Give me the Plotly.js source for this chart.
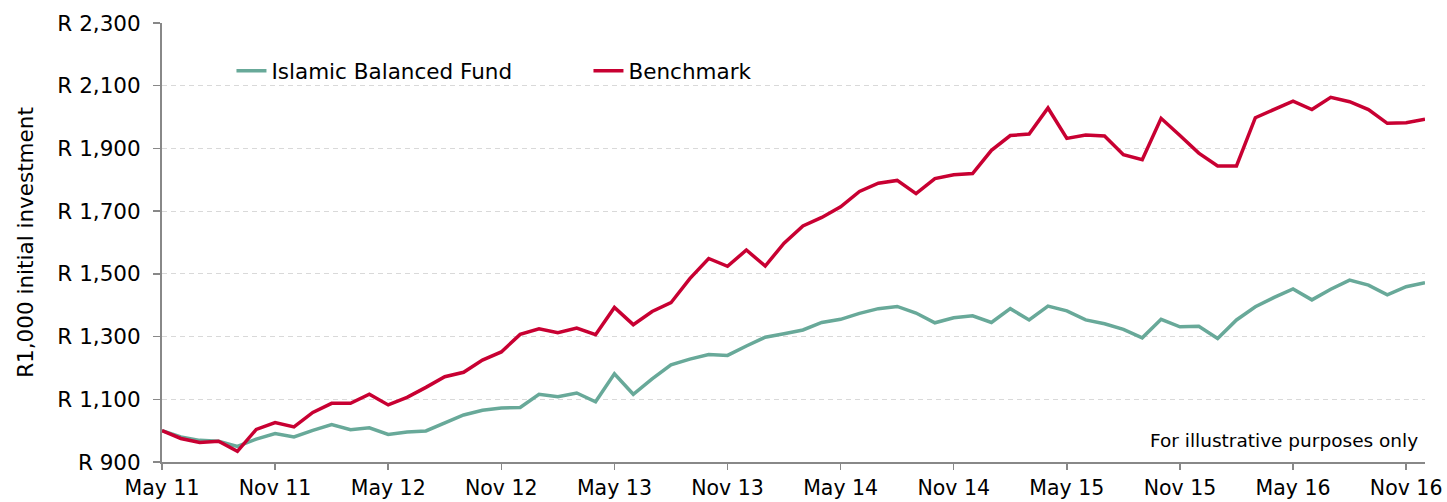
<!DOCTYPE html>
<html>
<head>
<meta charset="utf-8">
<script src="https://cdn.plot.ly/plotly-3.0.1.min.js"></script>
<style>
  html, body { margin: 0; padding: 0; background: #ffffff; }
  #chart { width: 1447px; height: 502px; }
</style>
</head>
<body>
<div id="chart"></div>
<script>
// Month categories: May 2011 .. Dec 2016
const monthNames = ["Jan","Feb","Mar","Apr","May","Jun","Jul","Aug","Sep","Oct","Nov","Dec"];
const months = [];
for (let y = 11; y <= 16; y++) {
  for (let m = 0; m < 12; m++) {
    if (y === 11 && m < 4) continue;
    months.push(monthNames[m] + " " + y);
  }
}

const tickLabels = ["May 11","Nov 11","May 12","Nov 12","May 13","Nov 13",
                    "May 14","Nov 14","May 15","Nov 15","May 16","Nov 16"];

const islamicBalancedFund = [
  1000, 980, 969, 966, 950, 973, 991, 980, 1001, 1019,
  1003, 1009, 988, 996, 999, 1025, 1050, 1065, 1072, 1074,
  1116, 1108, 1120, 1092, 1181, 1116, 1165, 1210, 1228, 1243,
  1240, 1270, 1298, 1309, 1321, 1345, 1355, 1374, 1389, 1396,
  1375, 1344, 1360, 1366, 1345, 1389, 1353, 1397, 1382, 1353,
  1341, 1323, 1296, 1355, 1331, 1333, 1294, 1353, 1395, 1425,
  1452, 1417, 1451, 1480, 1464, 1433, 1459, 1472
];

const benchmark = [
  1000, 975, 962, 966, 934, 1004, 1026, 1012, 1058, 1087,
  1087, 1116, 1082, 1106, 1138, 1172, 1186, 1225, 1251, 1307,
  1325, 1312, 1327, 1306, 1393, 1338, 1380, 1408, 1485, 1549,
  1524, 1576, 1525, 1598, 1653, 1680, 1714, 1763, 1789, 1798,
  1756, 1804, 1816, 1820, 1894, 1941, 1946, 2029, 1932, 1943,
  1940, 1880, 1864, 1996, 1941, 1885, 1844, 1844, 1998, 2024,
  2051, 2024, 2063, 2049, 2024, 1980, 1982, 1993
];

const FONT = "Verdana, 'DejaVu Sans', sans-serif";
const FS = 21.5;
const GREEN = "#68A999";
const RED = "#C80032";
const AXIS = "#888888";

const traces = [
  {
    x: months, y: islamicBalancedFund, type: "scatter", mode: "lines",
    name: "Islamic Balanced Fund",
    line: { color: GREEN, width: 3.5 }
  },
  {
    x: months, y: benchmark, type: "scatter", mode: "lines",
    name: "Benchmark",
    line: { color: RED, width: 3.5 }
  }
];

const layout = {
  width: 1447, height: 502,
  margin: { l: 162, r: 22, t: 23, b: 40, pad: 0 },
  paper_bgcolor: "#ffffff", plot_bgcolor: "#ffffff",
  font: { family: FONT, size: FS, color: "#000000" },
  showlegend: true,
  legend: {
    orientation: "h",
    x: 0.055, xanchor: "left",
    y: 0.891, yanchor: "middle",
    bgcolor: "rgba(0,0,0,0)",
    font: { family: FONT, size: FS, color: "#000000" },
    entrywidth: 312, entrywidthmode: "pixels",
    itemwidth: 30
  },
  xaxis: {
    type: "category",
    categoryorder: "array", categoryarray: months,
    range: [0, 67],
    tickmode: "array", tickvals: tickLabels, ticktext: tickLabels,
    ticks: "outside", ticklen: 6, tickwidth: 1.5, tickcolor: AXIS,
    showline: true, linecolor: AXIS, linewidth: 2,
    showgrid: false, zeroline: false,
    ticklabelstandoff: 0,
    tickfont: { family: FONT, size: 20.5, color: "#000000" },
    fixedrange: true
  },
  yaxis: {
    range: [900, 2300],
    tick0: 900, dtick: 200,
    tickprefix: "R ", tickformat: ",d",
    ticks: "outside", ticklen: 7, tickwidth: 1.5, tickcolor: AXIS,
    showline: true, linecolor: AXIS, linewidth: 2,
    showgrid: true, gridcolor: "#D9D9D9", gridwidth: 1, griddash: "5px,4px",
    zeroline: false,
    ticklabelstandoff: 8,
    tickfont: { family: FONT, size: FS, color: "#000000" },
    title: { text: "R1,000 initial investment", standoff: 18,
             font: { family: FONT, size: FS, color: "#000000" } },
    fixedrange: true
  },
  annotations: [
    {
      text: "For illustrative purposes only",
      xref: "paper", yref: "paper",
      x: 0.996, y: 0.05, xanchor: "right", yanchor: "middle",
      showarrow: false,
      font: { family: FONT, size: 18.5, color: "#000000" }
    }
  ]
};

Plotly.newPlot("chart", traces, layout, { displayModeBar: false, staticPlot: true });
</script>
</body>
</html>
